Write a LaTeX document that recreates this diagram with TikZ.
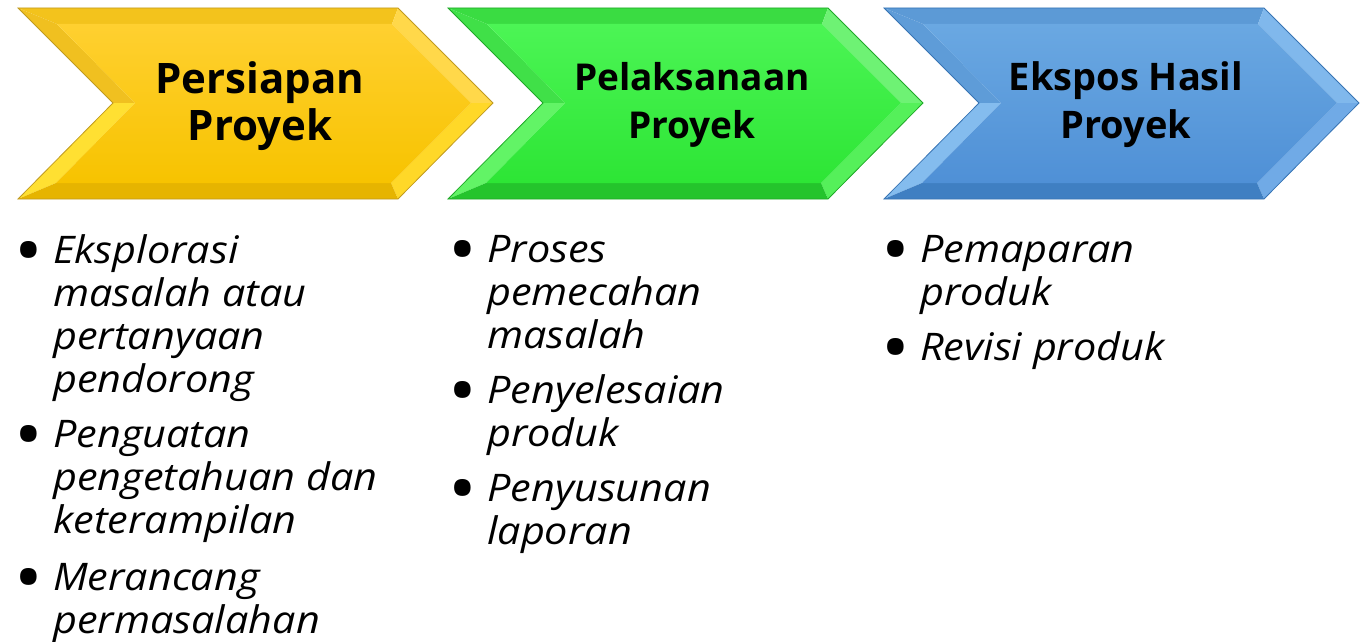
\documentclass[tikz,border=0pt]{standalone}
\usepackage{fontspec}
\setmainfont{Open Sans}
\newfontfamily\itemfont[FakeStretch=1.09]{Open Sans}
\usetikzlibrary{calc}
\definecolor{yA}{HTML}{FFD030}\definecolor{yB}{HTML}{F7C300}
\definecolor{yTop}{HTML}{F3C31C}\definecolor{yUL}{HTML}{F0C020}\definecolor{yLL}{HTML}{FFE032}
\definecolor{yUR}{HTML}{FFD84A}\definecolor{yLR}{HTML}{FFD828}\definecolor{yBot}{HTML}{E6B400}\definecolor{yOut}{HTML}{C09A20}
\definecolor{gA}{HTML}{4CF555}\definecolor{gB}{HTML}{2DE535}
\definecolor{gTop}{HTML}{3ADC42}\definecolor{gUL}{HTML}{40E048}\definecolor{gLL}{HTML}{62F466}
\definecolor{gUR}{HTML}{6EF274}\definecolor{gLR}{HTML}{55F05A}\definecolor{gBot}{HTML}{24C42C}\definecolor{gOut}{HTML}{1FA828}
\definecolor{bA}{HTML}{6AA8E2}\definecolor{bB}{HTML}{4F90D6}
\definecolor{bTop}{HTML}{5C9AD6}\definecolor{bUL}{HTML}{5E9CD8}\definecolor{bLL}{HTML}{84BCEE}
\definecolor{bUR}{HTML}{80B8EC}\definecolor{bLR}{HTML}{70AAE6}\definecolor{bBot}{HTML}{3F7FC2}\definecolor{bOut}{HTML}{3774B4}
\newcommand{\chevshape}[2]{% #1 = x offset, #2 = colour prefix
  \begin{scope}[xshift=#1pt]
    \coordinate (A) at (18,8);   \coordinate (B) at (398,8);  \coordinate (C) at (493,103);
    \coordinate (D) at (398,199);\coordinate (E) at (18,199); \coordinate (F) at (113,103);
    \coordinate (a) at (57,24);  \coordinate (b) at (392,24); \coordinate (c) at (471,103);
    \coordinate (d) at (391,183);\coordinate (e) at (56,183); \coordinate (f) at (135,103);
    \fill[#2Top] (A) -- (B) -- (b) -- (a) -- cycle;
    \fill[#2UL] (A) -- (a) -- (f) -- (F) -- cycle;
    \fill[#2LL] (F) -- (f) -- (e) -- (E) -- cycle;
    \fill[#2UR] (B) -- (C) -- (c) -- (b) -- cycle;
    \fill[#2LR] (C) -- (D) -- (d) -- (c) -- cycle;
    \fill[#2Bot] (E) -- (e) -- (d) -- (D) -- cycle;
    \shade[top color=#2A, bottom color=#2B] (a) -- (b) -- (c) -- (d) -- (e) -- (f) -- cycle;
    \draw[#2Out, line width=0.8pt, line join=miter] (A) -- (B) -- (C) -- (D) -- (E) -- (F) -- cycle;
  \end{scope}}
\tikzset{
  head/.style={anchor=base, align=center, inner sep=0pt, font=\bfseries\fontsize{38}{48}\selectfont},
  item/.style={anchor=base west, align=left, inner sep=0pt, font=\itemfont\itshape\fontsize{38}{43}\selectfont},
}
\newcommand{\bul}{\llap{\upshape\raisebox{-12pt}{\fontsize{70}{43}\selectfont\textbullet}\hspace{10pt}}}
\begin{document}
\begin{tikzpicture}[x=1pt,y=-1pt]
\useasboundingbox (0,0) rectangle (1363,642);
\chevshape{0}{y}
\chevshape{430}{g}
\chevshape{866}{b}
\node[head, font=\bfseries\fontsize{42}{47}\selectfont] (h1) at (260,140) {Persiapan\\Proyek};
\node[head, font=\bfseries\fontsize{37}{48}\selectfont] (h2) at (692,138) {Pelaksanaan\\Proyek};
\node[head] (h3) at (1126,138) {Ekspos Hasil\\Proyek};
% column 1
\node[item] (i11) at (53,392) {\bul Eksplorasi\\masalah atau\\pertanyaan\\pendorong};
\node[item] (i12) at (53,533) {\bul Penguatan\\pengetahuan dan\\keterampilan};
\node[item] (i13) at (53,633) {\bul Merancang\\permasalahan};
% column 2
\node[item] (i21) at (487,348) {\bul Proses\\pemecahan\\masalah};
\node[item] (i22) at (487,446) {\bul Penyelesaian\\produk};
\node[item] (i23) at (487,544) {\bul Penyusunan\\laporan};
% column 3
\node[item] (i31) at (920,305) {\bul Pemaparan\\produk};
\node[item] (i32) at (920,360) {\bul Revisi produk};
\end{tikzpicture}
\end{document}
